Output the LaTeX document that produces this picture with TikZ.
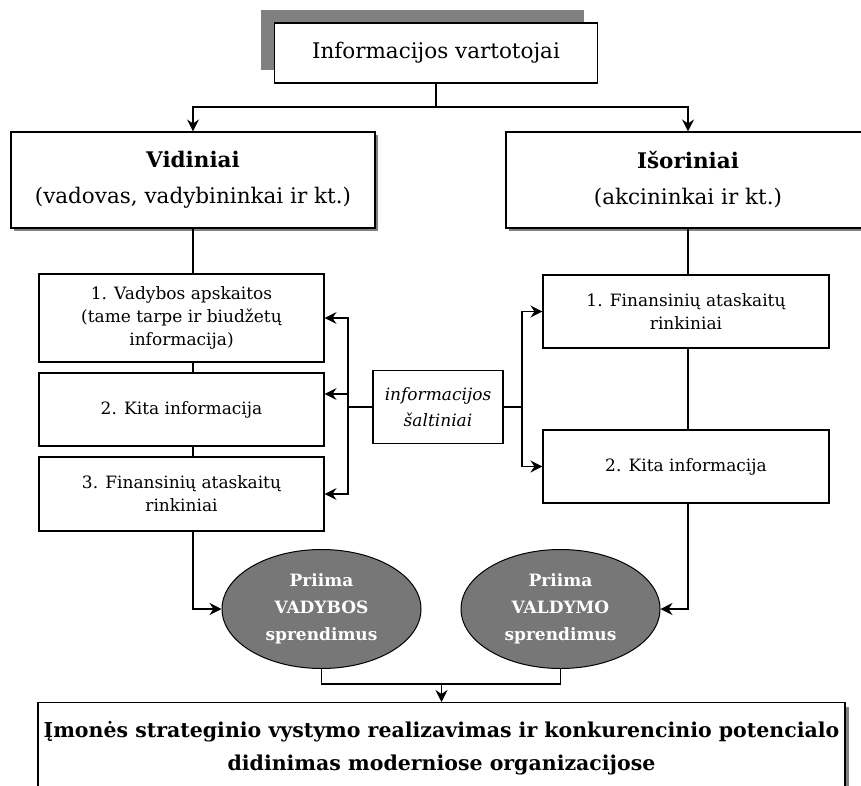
\documentclass[tikz,border=0pt]{standalone}
\usepackage{fontspec}
\setmainfont{DejaVu Serif}
\usepackage{tikz}
\usetikzlibrary{arrows.meta,positioning,calc,shadows,shapes.geometric}
\definecolor{shadowgray}{HTML}{808080}
\definecolor{ovalgray}{HTML}{777777}
\tikzset{
  userbox/.style={draw=black, line width=1.1pt, fill=white, align=center, inner sep=4pt},
  groupbox/.style={userbox, minimum width=364pt, minimum height=96pt,
    drop shadow={shadow xshift=3pt, shadow yshift=-3pt, fill=shadowgray, opacity=1},
    font=\fontsize{21.5}{36}\selectfont},
  infobox/.style={userbox, minimum width=286pt, font=\fontsize{17}{23}\selectfont},
  decision/.style={ellipse, draw=black, line width=1pt, fill=ovalgray, text=white, align=center,
    minimum width=199pt, minimum height=119pt, inner sep=0pt, font=\bfseries\fontsize{17}{27}\selectfont},
  arrow/.style={-{Stealth[length=12pt, width=12pt, inset=4pt]}, line width=1.1pt}
}
\begin{document}
\begin{tikzpicture}[x=1pt, y=-1pt]
  \useasboundingbox (0,0) rectangle (861,786);
  % users
  \node[userbox, minimum width=323pt, minimum height=60pt, font=\fontsize{21.5}{24}\selectfont,
    drop shadow={shadow xshift=-14pt, shadow yshift=13pt, fill=shadowgray, opacity=1}] (users) at (436,53) {Informacijos vartotojai};
  \coordinate (hub) at (436,107);
  \node[groupbox] (inner) at (193,180) {\textbf{Vidiniai}\\(vadovas, vadybininkai ir kt.)};
  \node[groupbox] (outer) at (688,180) {\textbf{Išoriniai}\\(akcininkai ir kt.)};
  % internal sources
  \node[infobox, minimum width=285pt, minimum height=88pt] (mgmt) at (181.5,318) {1. Vadybos apskaitos\\(tame tarpe ir biudžetų\\informacija)};
  \node[infobox, minimum width=285pt, minimum height=73pt] (otherin) at (181.5,409.5) {2. Kita informacija};
  \node[infobox, minimum width=285pt, minimum height=74pt] (finin) at (181.5,494) {3. Finansinių ataskaitų\\rinkiniai};
  % external sources
  \node[infobox, minimum height=73pt] (finout) at (686,311.5) {1. Finansinių ataskaitų\\rinkiniai};
  \node[infobox, minimum height=73pt] (otherout) at (686,466.5) {2. Kita informacija};
  \node[userbox, minimum width=130pt, minimum height=73pt, inner xsep=0pt, font=\itshape\fontsize{17}{26}\selectfont] (src) at (438,407) {informacijos\\šaltiniai};
  \coordinate (lbus) at (348,407);
  \coordinate (rbus) at (522,407);
  % decisions
  \node[decision] (mgmtdec) at (321.5,609) {Priima\\VADYBOS\\sprendimus};
  \node[decision] (govdec) at (560.5,609) {Priima\\VALDYMO\\sprendimus};
  \coordinate (merge) at (441.5,684);
  \node[userbox, anchor=north, minimum width=807pt, inner xsep=0pt, inner ysep=19pt, text depth=80pt,
    font=\bfseries\fontsize{20.5}{33}\selectfont,
    drop shadow={shadow xshift=4pt, shadow yshift=-4pt, fill=shadowgray, opacity=1}] (goal) at (441.5,702)
    {Įmonės strateginio vystymo realizavimas ir konkurencinio potencialo\\didinimas moderniose organizacijose};
  \draw[line width=1.1pt] (users.south) -- (hub);
  \draw[arrow] (hub) -| (inner.north);
  \draw[arrow] (hub) -| (outer.north);
  \draw[line width=1.1pt] (inner.south) -- (inner.south |- mgmt.north);
  \draw[line width=1.1pt] (mgmt.south -| inner.south) -- (otherin.north -| inner.south);
  \draw[line width=1.1pt] (otherin.south -| inner.south) -- (finin.north -| inner.south);
  \draw[arrow] (finin.south -| inner.south) |- (mgmtdec.west);
  \draw[line width=1.1pt] (outer.south) -- (outer.south |- finout.north);
  \draw[line width=1.1pt] (finout.south -| outer.south) -- (otherout.north -| outer.south);
  \draw[arrow] (otherout.south -| outer.south) |- (govdec.east);
  \draw[line width=1.1pt] (src.west) -- (lbus);
  \draw[line width=1.1pt] (src.east) -- (rbus);
  \draw[arrow] (lbus) |- (mgmt.east);
  \draw[arrow] (lbus) |- ([yshift=15.5pt]otherin.east);
  \draw[arrow] (lbus) |- (finin.east);
  \draw[arrow] (rbus) |- (finout.west);
  \draw[arrow] (rbus) |- (otherout.west);
  \draw[line width=1.1pt] (mgmtdec.south) -- (mgmtdec.south |- merge) -- (govdec.south |- merge) -- (govdec.south);
  \draw[arrow] (merge) -- (merge |- goal.north);
\end{tikzpicture}
\end{document}
